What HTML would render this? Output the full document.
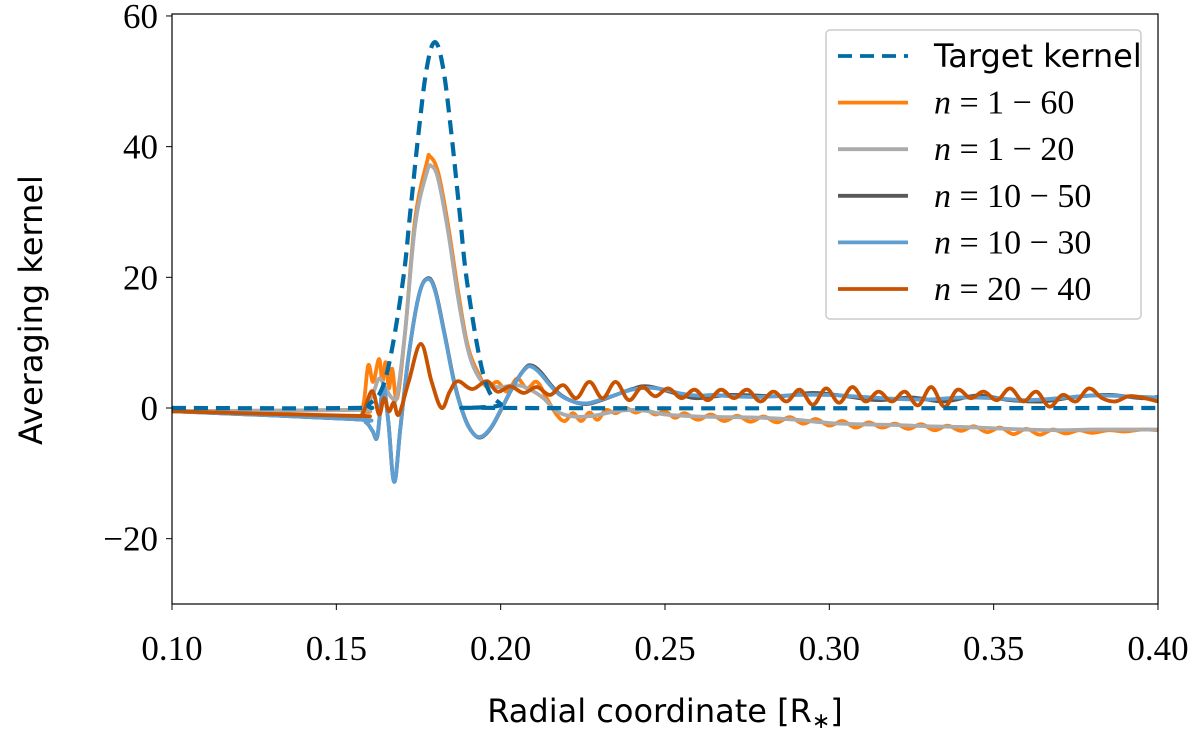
<!DOCTYPE html>
<html><head><meta charset="utf-8"><style>
body{margin:0;background:#fff;}
svg text{fill:#000;}
.tick{font-family:"Liberation Serif",serif;font-size:35px;}
.lab{font-family:"DejaVu Sans","Liberation Sans",sans-serif;font-size:32px;}
.leg{font-family:"Liberation Serif",serif;font-size:34px;}
</style></head><body>
<svg id="chart" width="1200" height="741" xmlns="http://www.w3.org/2000/svg">
<defs><clipPath id="pc"><rect x="172" y="14" width="986" height="590"/></clipPath></defs>
<g id="series" clip-path="url(#pc)"></g>
<rect x="172" y="14" width="986" height="590" fill="none" stroke="#000" stroke-width="1.2"/>
<g id="ticks"></g>
<text class="lab" x="665" y="722" text-anchor="middle">Radial coordinate [R<tspan font-family="Liberation Serif" font-size="22" dy="6">∗</tspan><tspan dy="-6">]</tspan></text>
<text class="lab" transform="translate(42,310) rotate(-90)" text-anchor="middle">Averaging kernel</text>
<g>
<rect x="826" y="30" width="315" height="289" rx="4" fill="#fff" fill-opacity="0.9" stroke="#ccc" stroke-width="1.5"/>
<g id="legend"></g>
</g>
</svg>
<script>
const xTicks=[0.10,0.15,0.20,0.25,0.30,0.35,0.40];
const xTickLabels=["0.10","0.15","0.20","0.25","0.30","0.35","0.40"];
const yTicks=[-20,0,20,40,60];
const yTickLabels=["−20","0","20","40","60"];
const seriesNames=["Target kernel","n = 1 − 60","n = 1 − 20","n = 10 − 50","n = 10 − 30","n = 20 − 40"];
const targetX=[0.10,0.155,0.16,0.165,0.17,0.1725,0.175,0.1775,0.18,0.1825,0.185,0.1875,0.19,0.195,0.20,0.205,0.40];
const targetY=[0,0,0.6,4.6,18.5,30,42,52,56,52,42,30,18.5,4.6,0.6,0,0];
const n160X=[0.10,0.155,0.158,0.1597,0.1612,0.163,0.164,0.165,0.166,0.167,0.1685,0.171,0.174,0.1775,0.1785,0.181,0.184,0.187,0.190,0.1935,0.196,0.199,0.202,0.205,0.208,0.211,0.214,0.217,0.2195,0.222,0.2245,0.227,0.2295,0.232,0.235,0.238,0.241,0.244,0.247,0.25,0.253,0.256,0.26,0.264,0.268,0.272,0.276,0.28,0.284,0.288,0.292,0.296,0.30,0.304,0.308,0.312,0.316,0.32,0.324,0.328,0.332,0.336,0.34,0.344,0.348,0.352,0.356,0.36,0.364,0.368,0.372,0.376,0.38,0.385,0.39,0.395,0.40];
const n160Y=[-0.5,-0.3,0,6.5,4,7.5,4,7,3,6,1.5,12,29,37.5,38.5,36,28,18,9.5,5,3.2,4,2.5,4.5,3,4,1.5,-1,-2,-0.8,-2,-0.7,-1.8,-0.3,-0.8,0,-0.7,-0.2,-1,-0.5,-1.5,-0.8,-1.8,-1.0,-2.0,-1.2,-2.1,-1.3,-2.2,-1.4,-2.4,-1.7,-2.7,-2.0,-3.0,-2.2,-3.0,-2.4,-3.2,-2.5,-3.4,-2.7,-3.5,-2.8,-3.7,-3.0,-4.0,-3.2,-4.1,-3.3,-3.9,-3.4,-3.8,-3.4,-3.6,-3.3,-3.4];
const n120X=[0.10,0.155,0.158,0.161,0.163,0.165,0.167,0.1685,0.171,0.174,0.1775,0.179,0.181,0.184,0.187,0.190,0.193,0.196,0.20,0.205,0.209,0.213,0.217,0.222,0.228,0.235,0.24,0.245,0.25,0.26,0.27,0.28,0.29,0.30,0.31,0.32,0.33,0.34,0.35,0.36,0.37,0.38,0.39,0.40];
const n120Y=[-0.5,-0.3,-0.2,2,4.5,3,1.5,2,12,28,36,37,35,27,17,9,5,3.5,3.2,3.5,2.8,1.5,-0.5,-1.3,-1.2,-0.5,-0.3,-0.5,-1.0,-1.3,-1.4,-1.5,-1.8,-2.3,-2.5,-2.6,-2.8,-2.9,-3.1,-3.3,-3.4,-3.3,-3.3,-3.3];
const n1050X=[0.10,0.155,0.159,0.161,0.1625,0.1642,0.1658,0.1676,0.1695,0.172,0.175,0.1776,0.180,0.183,0.186,0.189,0.1915,0.194,0.197,0.200,0.204,0.2075,0.2095,0.212,0.215,0.218,0.222,0.226,0.23,0.235,0.24,0.245,0.255,0.26,0.27,0.285,0.295,0.305,0.315,0.325,0.335,0.345,0.355,0.365,0.375,0.385,0.395,0.40];
const n1050Y=[-0.5,-1.7,-2.2,-3.5,-4.3,3.2,-2,-11.3,-3,8,17,19.8,18.2,11.2,3.7,-1.4,-3.8,-4.5,-3.1,-0.4,3.5,6.1,6.5,5.6,3.7,2.1,1,0.6,1.1,2,2.9,3.3,2.0,1.5,2,1.8,2.3,1.8,1.2,1.6,1.0,1.9,1.2,1.0,1.7,2.0,1.5,1.7];
const n1030X=[0.10,0.155,0.159,0.161,0.1625,0.1642,0.1658,0.1676,0.1695,0.172,0.175,0.1776,0.180,0.183,0.186,0.189,0.1915,0.194,0.197,0.200,0.204,0.2075,0.2095,0.212,0.215,0.218,0.222,0.226,0.23,0.235,0.24,0.245,0.25,0.255,0.26,0.265,0.27,0.28,0.29,0.30,0.31,0.32,0.33,0.34,0.35,0.36,0.37,0.38,0.39,0.40];
const n1030Y=[-0.5,-1.7,-2.2,-3.5,-4.2,3.4,-2,-11.3,-3,8,17,19.7,18,11,3.5,-1.5,-3.8,-4.4,-3,-0.3,3.5,6,6.3,5.3,3.5,2,1,0.7,1.2,2,2.8,3.1,2.8,2.2,1.9,2,1.8,1.7,2.0,2.0,1.7,1.4,1.3,1.6,1.5,1.2,1.5,1.9,1.8,1.6];
const n2040X=[0.10,0.155,0.158,0.1609,0.163,0.1645,0.166,0.1675,0.169,0.172,0.1757,0.179,0.182,0.1845,0.187,0.1913,0.1958,0.199,0.203,0.207,0.211,0.215,0.219,0.223,0.227,0.231,0.235,0.239,0.243,0.247,0.251,0.255,0.259,0.263,0.267,0.271,0.275,0.279,0.283,0.287,0.291,0.295,0.299,0.303,0.307,0.311,0.315,0.319,0.323,0.327,0.331,0.335,0.339,0.343,0.347,0.351,0.355,0.359,0.363,0.367,0.371,0.375,0.379,0.383,0.387,0.391,0.395,0.40];
const n2040Y=[-0.5,-1.2,-0.8,2.6,-1,1.5,-0.5,0.8,-1,4,9.8,4,0,2.5,4.1,2.9,4.1,2.5,3.3,2.3,3.2,2,3.5,1.5,4,1.5,4,1.2,3.2,1.8,3,1.5,2.8,1.2,2.8,1.5,2.8,1.0,2.5,1.0,2.8,0.5,3.0,0.8,3.2,1.0,2.5,1.0,2.5,0.4,3.2,0.2,2.8,1.5,2.5,1.2,3.0,1.0,2.5,0.2,2.0,1.0,3.0,1.5,1.0,1.8,1.6,1.0];

const X0=0.10,X1=0.40,Y0=-30,Y1=60.3,PL=172,PR=1158,PT=14,PB=604;
function sx(v){return PL+(v-X0)/(X1-X0)*(PR-PL);}
function sy(v){return PB-(v-Y0)/(Y1-Y0)*(PB-PT);}
const NS="http://www.w3.org/2000/svg";
function pathD(xs,ys){
  const p=xs.map((x,i)=>[sx(x),sy(ys[i])]);
  let d="M"+p[0][0].toFixed(2)+","+p[0][1].toFixed(2);
  for(let i=0;i<p.length-1;i++){
    const a=p[Math.max(i-1,0)],b=p[i],c=p[i+1],e=p[Math.min(i+2,p.length-1)];
    const t=0.18;
    const c1=[b[0]+(c[0]-a[0])*t,b[1]+(c[1]-a[1])*t];
    const c2=[c[0]-(e[0]-b[0])*t,c[1]-(e[1]-b[1])*t];
    d+="C"+c1[0].toFixed(2)+","+c1[1].toFixed(2)+" "+c2[0].toFixed(2)+","+c2[1].toFixed(2)+" "+c[0].toFixed(2)+","+c[1].toFixed(2);
  }
  return d;
}
const series=[
  {x:n2040X,y:n2040Y,c:"#C85200",n:"series-n-20-40"},
  {x:n1050X,y:n1050Y,c:"#595959",n:"series-n-10-50"},
  {x:n1030X,y:n1030Y,c:"#5F9ED1",n:"series-n-10-30"},
  {x:n160X,y:n160Y,c:"#FF800E",n:"series-n-1-60"},
  {x:n120X,y:n120Y,c:"#ABABAB",n:"series-n-1-20"},
  {x:targetX,y:targetY,c:"#006BA4",n:"series-target-kernel",dash:"14,8"},
];
const g=document.getElementById("series");
[3,4,1,2,0,5].forEach(i=>{
  const s=series[i];
  const p=document.createElementNS(NS,"path");
  p.setAttribute("d",pathD(s.x,s.y));
  p.setAttribute("fill","none");
  p.setAttribute("stroke",s.c);
  p.setAttribute("stroke-width",s.dash?"4.2":"3.8");
  p.setAttribute("stroke-linejoin","round");
  if(s.dash)p.setAttribute("stroke-dasharray",s.dash);
  
  
  g.appendChild(p);
});
const tg=document.getElementById("ticks");
xTicks.forEach((v,i)=>{
  const l=document.createElementNS(NS,"line");
  l.setAttribute("x1",sx(v));l.setAttribute("x2",sx(v));l.setAttribute("y1",PB);l.setAttribute("y2",PB+6);l.setAttribute("stroke","#000");
  
  
  tg.appendChild(l);
  const t=document.createElementNS(NS,"text");
  t.setAttribute("x",sx(v));t.setAttribute("y",PB+56);t.setAttribute("text-anchor","middle");t.setAttribute("class","tick");
  t.textContent=xTickLabels[i];
  
  
  tg.appendChild(t);
});
yTicks.forEach((v,i)=>{
  const l=document.createElementNS(NS,"line");
  l.setAttribute("x1",PL-6);l.setAttribute("x2",PL);l.setAttribute("y1",sy(v));l.setAttribute("y2",sy(v));l.setAttribute("stroke","#000");
  
  
  tg.appendChild(l);
  const t=document.createElementNS(NS,"text");
  t.setAttribute("x",PL-14);t.setAttribute("y",sy(v)+12);t.setAttribute("text-anchor","end");t.setAttribute("class","tick");
  t.textContent=yTickLabels[i];
  
  
  tg.appendChild(t);
});
const lg=document.getElementById("legend");
const legOrder=[5,3,4,1,2,0];
legOrder.forEach((si,k)=>{
  const s=series[si];
  const y=56+k*46.6;
  const l=document.createElementNS(NS,"line");
  l.setAttribute("x1",838);l.setAttribute("x2",908);l.setAttribute("y1",y);l.setAttribute("y2",y);
  l.setAttribute("stroke",s.c);l.setAttribute("stroke-width","3.8");
  if(s.dash)l.setAttribute("stroke-dasharray","14,8");
  
  
  lg.appendChild(l);
  const t=document.createElementNS(NS,"text");
  t.setAttribute("x",934);t.setAttribute("y",y+11);
  if(k===0){
    t.setAttribute("class","lab");t.textContent=seriesNames[0];
  } else {
    t.setAttribute("class","leg");
    const parts=seriesNames[k].split(" ");
    const it=document.createElementNS(NS,"tspan");
    it.setAttribute("font-style","italic");it.textContent="n";
    t.appendChild(it);
    t.appendChild(document.createTextNode(" = "+parts.slice(2).join(" ")));
  }
  
  
  lg.appendChild(t);
});
</script>
</body></html>
